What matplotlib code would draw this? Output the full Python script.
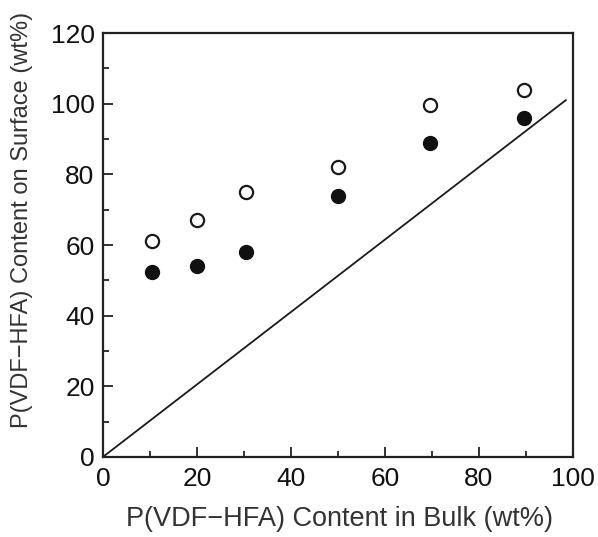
import numpy as np
import matplotlib
matplotlib.use("Agg")
import matplotlib.pyplot as plt
from matplotlib.ticker import MultipleLocator

plt.rcParams['font.family'] = ['Liberation Sans', 'DejaVu Sans']

# bulk content (wt%)
bulk = [10.5, 20, 30.5, 50, 69.5, 89.5]
# surface content (wt%)
surface_open = [61, 67, 75, 82, 99.5, 104]
surface_filled = [52.5, 54, 58, 74, 89, 96]
# reference line
ref_x = [0, 98.5]
ref_y = [0, 101]

fig = plt.figure(figsize=(5.98, 5.37), dpi=100)
ax = fig.add_axes([0.172, 0.149, 0.786, 0.7895])

ax.plot(ref_x, ref_y, color='#1a1a1a', lw=1.3)
ax.plot(bulk, surface_open, 'o', ms=9.5, mfc='white', mec='#1a1a1a', mew=1.6, ls='none')
ax.plot(bulk, surface_filled, 'o', ms=10, mfc='#111111', mec='#111111', ls='none')

ax.set_xlim(0, 100)
ax.set_ylim(0, 120)
ax.xaxis.set_major_locator(MultipleLocator(20))
ax.xaxis.set_minor_locator(MultipleLocator(10))
ax.yaxis.set_major_locator(MultipleLocator(20))
ax.yaxis.set_minor_locator(MultipleLocator(10))
ax.tick_params(which='both', direction='in', top=False, right=False,
               width=1.3, color='#222222')
ax.tick_params(which='major', length=7, labelsize=19, labelcolor='#111111')
ax.tick_params(axis='x', which='major', pad=7)
ax.tick_params(axis='y', which='major', pad=6)
ax.tick_params(which='minor', length=4)
for s in ax.spines.values():
    s.set_linewidth(1.6)
    s.set_color('#222222')

ax.set_xlabel('P(VDF\u2212HFA) Content in Bulk (wt%)', fontsize=19.5, color='#333333')
ax.set_ylabel('P(VDF\u2212HFA) Content on Surface (wt%)', fontsize=17, color='#333333')
ax.xaxis.set_label_coords(0.504, -0.115)
ax.yaxis.set_label_coords(-0.148, 0.559)

fig.savefig('out.png', dpi=100)
